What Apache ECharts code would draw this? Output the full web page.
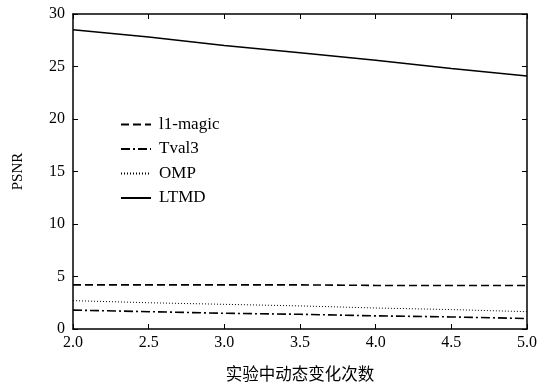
<!DOCTYPE html>
<html>
<head>
<meta charset="utf-8">
<script src="https://cdn.jsdelivr.net/npm/echarts@6/dist/echarts.min.js"></script>
<style>
html,body{margin:0;padding:0;background:#fff;}
#chart{width:540px;height:387px;}
</style>
</head>
<body>
<div id="chart"></div>
<script>
// Number of dynamic changes in the experiment
const changes = [2.0, 2.5, 3.0, 3.5, 4.0, 4.5, 5.0];
// PSNR per method
const l1magic = [4.2, 4.2, 4.2, 4.2, 4.15, 4.15, 4.15];
const tval3 = [1.8, 1.65, 1.5, 1.4, 1.25, 1.15, 1.0];
const omp = [2.7, 2.5, 2.35, 2.2, 2.0, 1.85, 1.65];
const ltmd = [28.5, 27.8, 27.0, 26.3, 25.6, 24.8, 24.1];
const seriesNames = ['l1-magic', 'Tval3', 'OMP', 'LTMD'];
const xTicks = { min: 2, max: 5, step: 0.5 };
const yTicks = { min: 0, max: 30, step: 5 };

const serif = '"Liberation Serif", "DejaVu Serif", serif';
const pairs = ys => changes.map((x, i) => [x, ys[i]]);

const boxAxis = {
  axisLine: { show: true, onZero: false, lineStyle: { color: '#000', width: 1.5 } },
  axisTick: { show: true, inside: true, length: 5, lineStyle: { color: '#000', width: 1 } },
  splitLine: { show: false }
};

const chart = echarts.init(document.getElementById('chart'));
chart.setOption({
  animation: false,
  backgroundColor: '#fff',
  grid: { left: 73, right: 13, top: 14, bottom: 58 },
  legend: {
    orient: 'vertical',
    left: 115,
    top: 111,
    itemWidth: 30,
    itemHeight: 14,
    itemGap: 7.5,
    data: seriesNames,
    // hide the marker dot drawn on top of each legend line sample
    itemStyle: { opacity: 0 },
    textStyle: { fontFamily: serif, fontSize: 17, color: '#000', padding: [0, 0, 0, 3] }
  },
  xAxis: [
    Object.assign({
      type: 'value', min: xTicks.min, max: xTicks.max, interval: xTicks.step,
      position: 'bottom',
      name: '实验中动态变化次数', nameLocation: 'middle', nameGap: 36,
      nameTextStyle: { fontFamily: '"Noto Sans CJK SC", sans-serif', fontSize: 16.5, color: '#000' },
      axisLabel: { formatter: v => v.toFixed(1), fontFamily: serif, fontSize: 16, color: '#000', margin: 6 }
    }, boxAxis),
    Object.assign({
      type: 'value', min: xTicks.min, max: xTicks.max, interval: xTicks.step,
      position: 'top', axisLabel: { show: false }
    }, boxAxis)
  ],
  yAxis: [
    Object.assign({
      type: 'value', min: yTicks.min, max: yTicks.max, interval: yTicks.step,
      position: 'left',
      name: 'PSNR', nameLocation: 'middle', nameGap: 47,
      nameTextStyle: { fontFamily: serif, fontSize: 15, color: '#000' },
      axisLabel: { fontFamily: serif, fontSize: 16, color: '#000', margin: 8 }
    }, boxAxis),
    Object.assign({
      type: 'value', min: yTicks.min, max: yTicks.max, interval: yTicks.step,
      position: 'right', axisLabel: { show: false }
    }, boxAxis)
  ],
  series: [
    {
      name: seriesNames[0], type: 'line', data: pairs(l1magic), symbol: 'none',
      lineStyle: { color: '#000', width: 1.6, type: [8, 4] }, itemStyle: { color: '#000' }
    },
    {
      name: seriesNames[1], type: 'line', data: pairs(tval3), symbol: 'none',
      lineStyle: { color: '#000', width: 1.6, type: [9, 3, 2, 3] }, itemStyle: { color: '#000' }
    },
    {
      name: seriesNames[2], type: 'line', data: pairs(omp), symbol: 'none',
      lineStyle: { color: '#000', width: 1, type: [1, 2] }, itemStyle: { color: '#000' }
    },
    {
      name: seriesNames[3], type: 'line', data: pairs(ltmd), symbol: 'none',
      lineStyle: { color: '#000', width: 1.5, type: 'solid' }, itemStyle: { color: '#000' }
    }
  ]
});
</script>
</body>
</html>
